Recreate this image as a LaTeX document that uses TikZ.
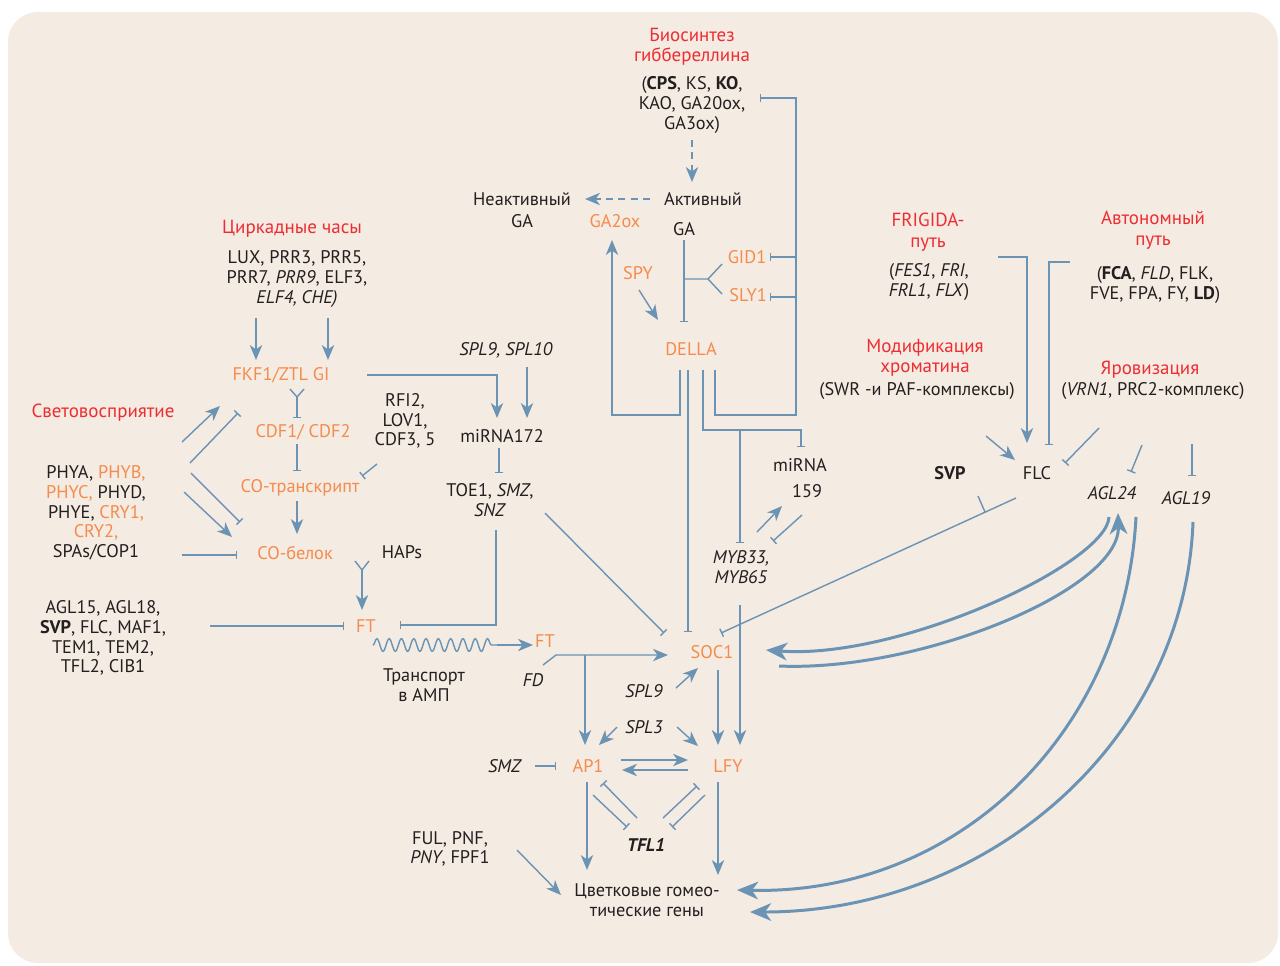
\documentclass[tikz,border=0pt]{standalone}
\usepackage{fontspec}
\setmainfont{PT Sans}
\usepackage{xcolor}
\usepackage{tikz}
\usetikzlibrary{calc, arrows.meta, decorations.pathmorphing}

\definecolor{bg}{HTML}{F4EBE2}
\definecolor{lncol}{HTML}{6B93B4}
\definecolor{orng}{HTML}{F58B4C}
\definecolor{rd}{HTML}{EE2D33}
\definecolor{txt}{HTML}{231F20}

\tikzset{
  lbl/.style={font=\fontsize{10.4}{11.2}\selectfont, text=txt, align=center, inner sep=1pt},
  gene/.style={lbl, text=orng},
  head/.style={lbl, text=rd, font=\fontsize{10.8}{11.6}\selectfont},
  wire/.style={draw=lncol, line width=0.8pt},
  arr/.style={wire, -{Stealth[length=8.5pt, width=7pt, inset=2.5pt]}},
  blk/.style={wire, -{Bar[width=5pt, line width=0.8pt]}},
  big/.style={draw=lncol, line width=1.7pt, -{Stealth[length=12pt, width=10pt, inset=3.5pt]}},
}

\begin{document}
\begin{tikzpicture}[x=0.02cm, y=-0.02cm]
    \useasboundingbox (0,0) rectangle (1280,965);
    \fill[bg, rounded corners=17pt] (8,12) rectangle (1278,963);

    % 1. Гиббереллин
    \node[head] (bio) at (692,47) {Биосинтез\\гиббереллина};
    \node[lbl] (bioG) at (692,105) {(\textbf{CPS}, KS, \textbf{KO},\\KAO, GA20ox,\\GA3ox)};
    \node[lbl] (actv) at (703,199) {Активный};
    \node[lbl] (ga) at (684,229) {GA};
    \node[lbl] (inact) at (522,210) {Неактивный\\[1.5pt]GA};
    \node[gene] (ga2ox) at (615,221) {GA2ox};
    \node[gene] (gid) at (747,257) {GID1};
    \node[gene] (sly) at (748,295) {SLY1};
    \node[gene] (spy) at (638,273) {SPY};
    \node[gene] (della) at (691,349) {DELLA};
    \node[lbl] (mir) at (800,478) {miRNA\\[3.5pt]\hspace*{8pt}159};
    \node[lbl] (myb) at (741,567) {\textit{MYB33,}\\\textit{MYB65}};

    % 2. Циркадные часы и свет
    \node[head] (circ) at (292,229) {Циркадные часы};
    \node[lbl] (clk) at (297,279) {LUX, PRR3, PRR5,\\PRR7, \textit{PRR9}, ELF3,\\\textit{ELF4, CHE)}};
    \node[gene] (fkf) at (281,375) {FKF1/ZTL GI};
    \node[gene] (cdf) at (303,432) {CDF1/ CDF2};
    \node[lbl] (rfi) at (405,421) {RFI2,\\LOV1,\\CDF3, 5};
    \node[gene] (cot) at (300,488) {CO-транскрипт};
    \node[gene] (cop) at (295,553) {CO-белок};
    \node[lbl] (haps) at (402,552) {HAPs};
    \node[gene] (ft) at (366,626) {FT};
    \node[head] (light) at (103,413) {Световосприятие};
    \node[lbl] (phy) at (96,513) {PHYA, \textcolor{orng}{PHYB,}\\\textcolor{orng}{PHYC,} PHYD,\\PHYE, \textcolor{orng}{CRY1,}\\\textcolor{orng}{CRY2,}\\SPAs/COP1};
    \node[lbl] (agl15) at (103,638) {AGL15, AGL18,\\\textbf{SVP}, FLC, MAF1,\\TEM1, TEM2,\\TFL2, CIB1};
    \node[gene] (ft2) at (545,641) {FT};
    \node[lbl] (transp) at (424,685) {Транспорт\\в АМП};
    \node[lbl] (fd) at (533,680) {\textit{FD}};

    % 3. Возрастной путь и меристема
    \node[lbl] (spl) at (506,350) {\textit{SPL9, SPL10}};
    \node[lbl] (mir172) at (502,436) {miRNA172};
    \node[lbl] (toe) at (490,500) {TOE1, \textit{SMZ},\\\textit{SNZ}};
    \node[gene] (soc) at (712,652) {SOC1};
    \node[lbl] (spl9) at (644,691) {\textit{SPL9}};
    \node[lbl] (spl3) at (644,727) {\textit{SPL3}};
    \node[lbl] (smz) at (505,766) {\textit{SMZ}};
    \node[gene] (ap1) at (588,766) {AP1};
    \node[gene] (lfy) at (728,766) {LFY};
    \node[lbl] (tfl) at (646,845) {\textbf{\textit{TFL1}}};
    \node[lbl] (ful) at (450,849) {FUL, PNF,\\\textit{PNY}, FPF1};
    \node[lbl] (hom) at (647,900) {Цветковые гомео-\\тические гены};

    % 4. FLC
    \node[head] (fri) at (928,232) {FRIGIDA-\\путь};
    \node[lbl] (friG) at (929,282) {(\textit{FES1}, \textit{FRI},\\\textit{FRL1}, \textit{FLX})};
    \node[head] (auto) at (1153,230) {Автономный\\путь};
    \node[lbl] (autoG) at (1155,285) {(\textbf{FCA}, \textit{FLD}, FLK,\\FVE, FPA, FY, \textbf{LD})};
    \node[head] (chrom) at (925,358) {Модификация\\хроматина};
    \node[lbl] (chromG) at (917,391) {(SWR -и PAF-комплексы)};
    \node[head] (vern) at (1150,370) {Яровизация};
    \node[lbl] (vernG) at (1153,391) {(\textit{VRN1}, PRC2-комплекс)};
    \node[lbl] (svp) at (950,473) {\textbf{SVP}};
    \node[lbl] (flc) at (1037,473) {FLC};
    \node[lbl] (agl24) at (1112,493) {\textit{AGL24}};
    \node[lbl] (agl19) at (1186,498) {\textit{AGL19}};

    % 5. Связи: гиббереллин
    \draw[arr, dash pattern=on 4pt off 3pt] ($(bioG)+(0,35)$) -- ($(actv)+(-11,-17)$);
    \draw[arr, dash pattern=on 4pt off 3pt] ($(actv)+(-53,0)$) -- ($(inact)+(63,-11)$);
    \draw[arr] ($(della)+(-11,21)$) |- ($(ga2ox)+(-3,194)$) -- ($(ga2ox)+(-3,19)$);
    \draw[blk] ($(ga)+(0,11)$) -- ($(della)+(-7,-27)$);
    \draw[wire] ($(ga)+(0,50)$) -- ++(24,0) coordinate (fork) -- ++(14,-15) (fork) -- ++(14,15);
    \draw[blk] ($(della)+(24,21)$) |- ($(della)+(105,66)$) |- ($(bioG)+(68,-7)$);
    \draw[blk] ($(della)+(105,-92)$) -- ($(gid)+(23,0)$);
    \draw[blk] ($(della)+(105,-52)$) -- ($(sly)+(22,2)$);
    \draw[arr] ($(spy)+(1,17)$) -- ($(della)+(-33,-29)$);
    \draw[blk] ($(della)+(-3,21)$) -- ($(soc)+(-24,-20)$);
    \draw[blk] ($(della)+(12,21)$) |- ($(mir)+(1,-48)$) -- ($(mir)+(1,-31)$);
    \draw[blk] ($(myb)+(-1,-137)$) -- ($(myb)+(-1,-24)$);
    \draw[arr] ($(myb)+(16,-35)$) -- ($(mir)+(-18,28)$);
    \draw[blk] ($(mir)+(2,37)$) -- ($(myb)+(32,-26)$);
    \draw[arr] ($(myb)+(-1,38)$) -- ($(lfy)+(12,-21)$);

    % 6. Связи: часы, свет, FT
    \draw[arr] ($(clk)+(-41,39)$) -- ($(fkf)+(-25,-15)$);
    \draw[arr] ($(clk)+(31,39)$) -- ($(fkf)+(47,-15)$);
    \draw[arr] ($(fkf)+(86,0)$) -| ($(mir172)+(-5,-18)$);
    \draw[arr] ($(spl)+(21,17)$) -- ($(mir172)+(25,-18)$);
    \draw[blk] ($(mir172)+(-3,12)$) -- ($(toe)+(9,-27)$);
    \draw[blk] ($(toe)+(6,30)$) |- ($(ft)+(34,-1)$);
    \draw[blk] ($(toe)+(55,13)$) -- ($(soc)+(-48,-19)$);
    \draw[wire] ($(fkf)+(9,14)$) -- ($(fkf)+(16,22)$) -- ($(fkf)+(23,14)$);
    \draw[blk] ($(fkf)+(16,22)$) -- ($(cdf)+(-6,-14)$);
    \draw[blk] ($(cdf)+(-6,12)$) -- ($(cot)+(-3,-17)$);
    \draw[blk] ($(rfi)+(-28,43)$) -- ($(cot)+(62,-12)$);
    \draw[arr] ($(cot)+(-3,13)$) -- ($(cop)+(2,-19)$);
    \draw[wire] ($(ft)+(-11,-65)$) -- ($(ft)+(-4,-56)$) -- ($(ft)+(3,-65)$);
    \draw[arr] ($(ft)+(-4,-56)$) -- ($(ft)+(-4,-16)$);
    \draw[arr] ($(phy)+(86,-71)$) -- ($(fkf)+(-61,31)$);
    \draw[blk] ($(phy)+(94,-50)$) -- ($(cdf)+(-65,-19)$);
    \draw[blk] ($(phy)+(95,-40)$) -- ($(cop)+(-55,-31)$);
    \draw[arr] ($(phy)+(88,-21)$) -- ($(cop)+(-63,-16)$);
    \draw[blk] ($(phy)+(86,42)$) -- ($(cop)+(-58,2)$);
    \draw[blk] ($(agl15)+(107,-12)$) -- ($(ft)+(-22,0)$);
    \draw[wire, decorate, decoration={snake, segment length=7pt, amplitude=3.6pt}]
        ($(ft)+(7,19)$) -- ($(ft)+(131,19)$);
    \draw[arr] ($(ft)+(131,19)$) -- ($(ft2)+(-12,4)$);
    \draw[arr] ($(fd)+(10,-15)$) -- ($(fd)+(23,-25)$) -- ($(soc)+(-44,3)$);
    \draw[arr] ($(ap1)+(-3,-111)$) -- ($(ap1)+(-3,-21)$);

    % 7. Связи: SOC1, AP1, LFY
    \draw[arr] ($(spl9)+(32,-3)$) -- ($(soc)+(-14,16)$);
    \draw[arr] ($(soc)+(6,18)$) -- ($(lfy)+(-10,-21)$);
    \draw[arr] ($(spl3)+(-27,0)$) -- ($(ap1)+(11,-21)$);
    \draw[arr] ($(spl3)+(33,0)$) -- ($(lfy)+(-30,-20)$);
    \draw[blk] ($(smz)+(30,0)$) -- ($(ap1)+(-32,0)$);
    \draw[arr] ($(ap1)+(33,-6)$) -- ($(lfy)+(-40,-6)$);
    \draw[arr] ($(lfy)+(-40,4)$) -- ($(ap1)+(34,4)$);
    \draw[arr] ($(ap1)+(-1,16)$) -- ($(hom)+(-60,-30)$);
    \draw[arr] ($(lfy)+(-10,16)$) -- ($(hom)+(71,-25)$);
    \draw[blk] ($(ap1)+(5,29)$) -- ($(tfl)+(-19,-18)$);
    \draw[blk] ($(tfl)+(-9,-27)$) -- ($(ap1)+(15,17)$);
    \draw[blk] ($(tfl)+(17,-27)$) -- ($(lfy)+(-31,20)$);
    \draw[blk] ($(lfy)+(-23,29)$) -- ($(tfl)+(26,-18)$);
    \draw[arr] ($(ful)+(67,1)$) -- ($(hom)+(-86,-5)$);

    % 8. Связи: FLC, AGL24, AGL19
    \draw[arr] ($(friG)+(69,-25)$) -| ($(flc)+(-10,-30)$);
    \draw[blk] ($(autoG)+(-85,-23)$) -| ($(flc)+(12,-28)$);
    \draw[arr] ($(chromG)+(69,45)$) -- ($(flc)+(-22,-13)$);
    \draw[blk] ($(vernG)+(-54,37)$) -- ($(flc)+(28,-10)$);
    \draw[blk] ($(flc)+(-21,25)$) -- ($(soc)+(9,-19)$);
    \draw[wire] ($(svp)+(28,23)$) -- ($(svp)+(35,39)$);
    \draw[blk] ($(vernG)+(-11,54)$) -- ($(agl24)+(19,-21)$);
    \draw[blk] ($(vernG)+(39,53)$) -- ($(agl19)+(6,-22)$);
    \draw[big] ($(agl24)+(-3,24)$) .. controls ($(agl24)+(-5,70)$) and ($(soc)+(188,8)$) .. ($(soc)+(54,-2)$);
    \draw[big] ($(soc)+(67,14)$) .. controls ($(soc)+(208,20)$) and ($(agl24)+(8,97)$) .. ($(agl24)+(6,20)$);
    \draw[big] ($(agl24)+(24,24)$) .. controls ($(agl24)+(13,237)$) and ($(hom)+(313,-5)$) .. ($(hom)+(90,-10)$);
    \draw[big] ($(agl19)+(7,24)$) .. controls ($(agl19)+(-1,242)$) and ($(hom)+(343,12)$) .. ($(hom)+(103,12)$);
\end{tikzpicture}
\end{document}
